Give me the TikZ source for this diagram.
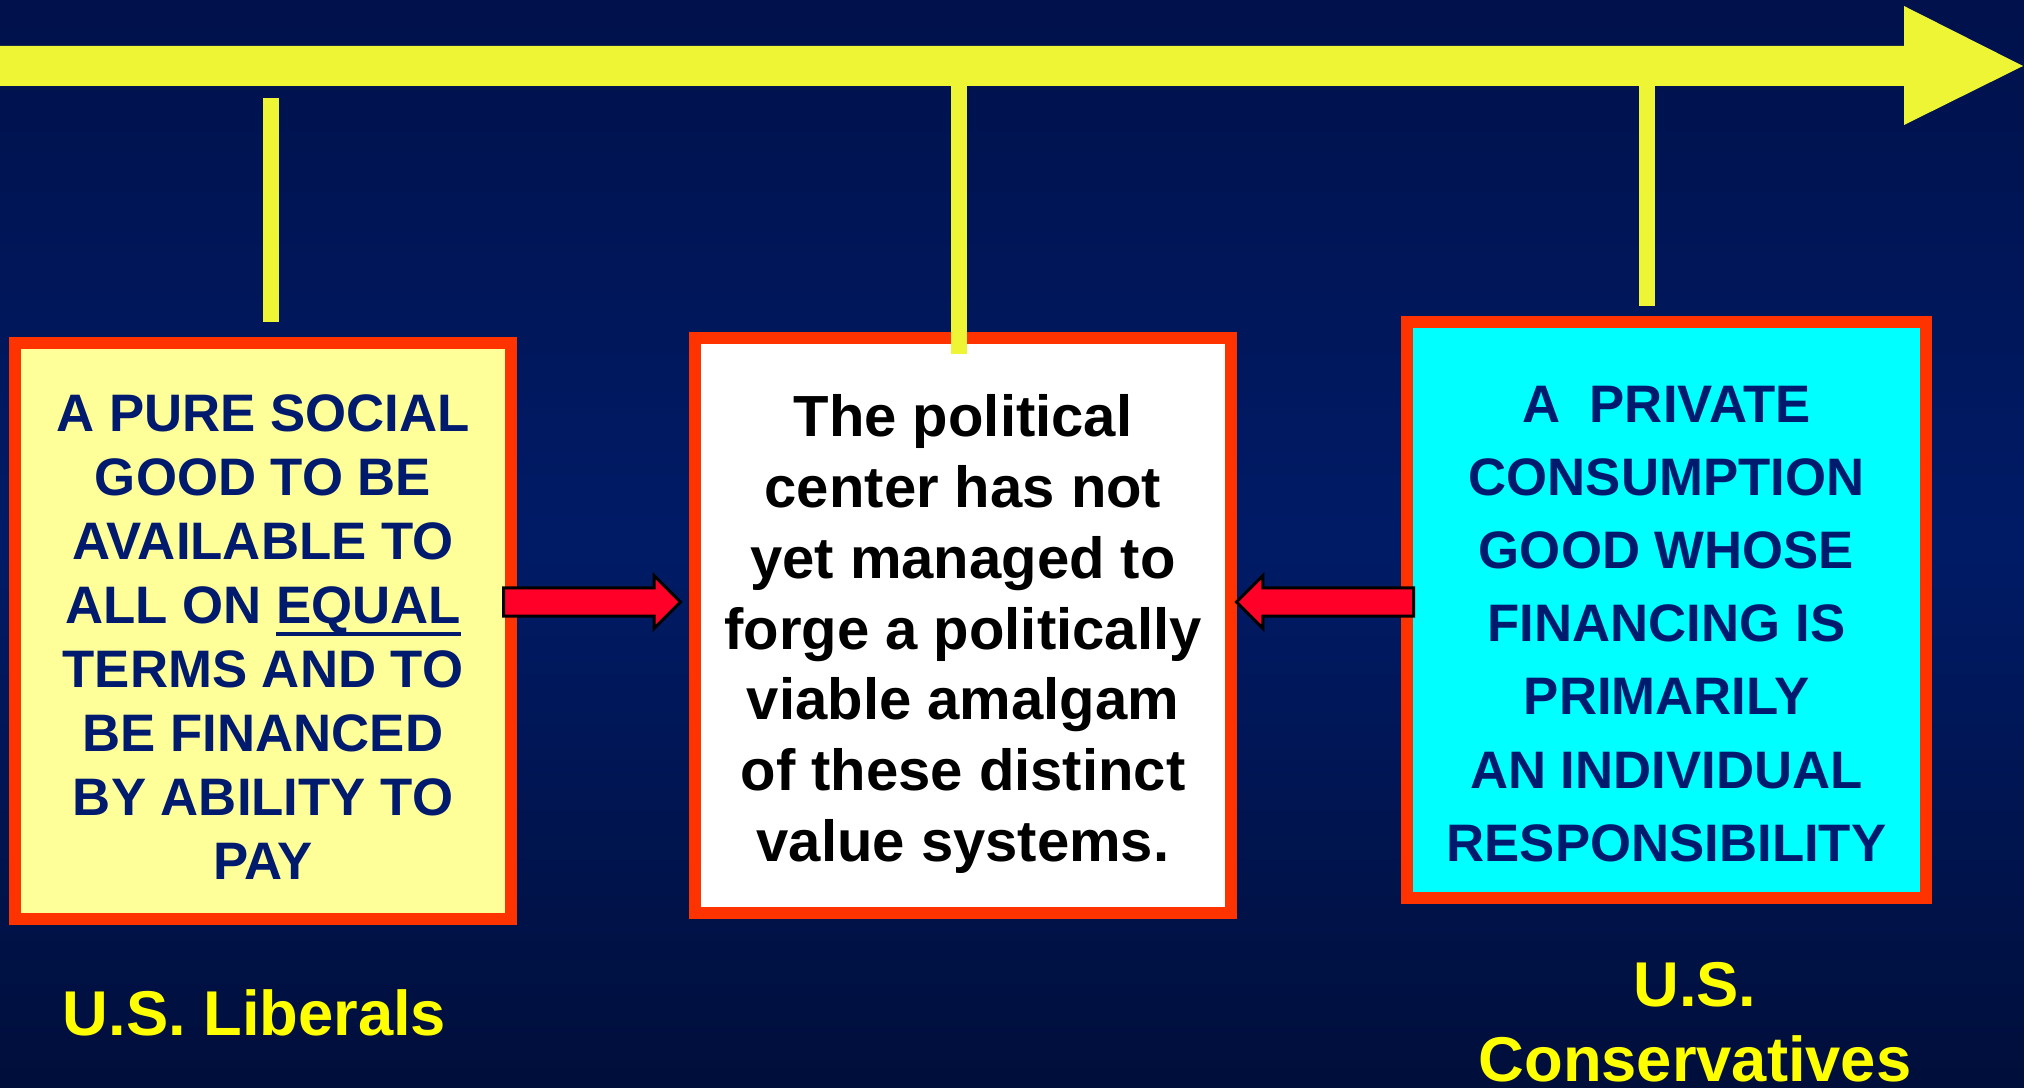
\documentclass[tikz,border=0pt]{standalone}
\usepackage{fontspec}
\setmainfont{Liberation Sans}
\usetikzlibrary{shapes.arrows}

\definecolor{slidetop}{RGB}{0,17,75}
\definecolor{slidemid}{RGB}{0,27,102}
\definecolor{slidebottom}{RGB}{0,14,58}
\definecolor{axisyellow}{RGB}{238,245,53}
\definecolor{labelyellow}{RGB}{255,255,0}
\definecolor{boxred}{RGB}{255,51,0}
\definecolor{pushred}{RGB}{255,0,40}
\definecolor{inknavy}{RGB}{0,26,110}
\definecolor{paleyellow}{RGB}{255,255,153}
\definecolor{brightcyan}{RGB}{0,255,255}

\newcommand{\equalline}[1]{\setbox0\hbox{#1}\rlap{\raisebox{-3.6pt}{\rule{\wd0}{1.1pt}}}\box0}
% pushes the first line down inside a box
\newcommand{\toplift}[1]{\rule{0pt}{#1}}

\begin{document}
\begin{tikzpicture}[x=0.01cm, y=-0.01cm,
  valuebox/.style={draw=boxred, line width=0.12cm, align=center, inner sep=0pt, minimum height=5.75cm},
  tickline/.style={axisyellow, line width=0.16cm},
  pusharrow/.style={single arrow, draw=black, line width=0.03cm, fill=pushred,
    inner xsep=0pt, inner ysep=0.125cm, single arrow head extend=0.125cm, minimum height=1.77cm},
  sidelabel/.style={text=labelyellow, font=\fontsize{18}{21.3}\selectfont\bfseries, inner sep=0pt, align=center}]

\useasboundingbox (0,0) rectangle (2024,1088);
\clip (0,0) rectangle (2024,1088);
\shade [top color=slidetop, bottom color=slidebottom, middle color=slidemid] (0,0) rectangle (2024,1088);

% the axis
\fill [axisyellow] (0,46) -- (1904,46) -- (1904,6) -- (2023,66) -- (1904,125) -- (1904,86) -- (0,86) -- cycle;

\node [valuebox, fill=paleyellow, text=inknavy, minimum width=4.96cm,
  font=\fontsize{15}{18.2}\selectfont\bfseries] (lib) at (263,631)
  {\toplift{13.8pt}A PURE SOCIAL\\GOOD TO BE\\AVAILABLE TO\\ALL ON \equalline{EQUAL}\\TERMS AND TO\\BE FINANCED\\BY ABILITY TO\\PAY};
\node [valuebox, fill=white, text=black, minimum width=5.36cm,
  font=\fontsize{16.5}{20.1}\selectfont\bfseries] (mid) at (963,625.5)
  {\toplift{16.8pt}The political\\center has not\\yet managed to\\forge a politically\\viable amalgam\\of these distinct\\value systems.};
\node [valuebox, fill=brightcyan, text=inknavy, minimum width=5.19cm, minimum height=5.76cm,
  font=\fontsize{15}{20.8}\selectfont\bfseries] (con) at (1666.5,610)
  {\toplift{18.2pt}A\ \ PRIVATE\\CONSUMPTION\\GOOD WHOSE\\FINANCING IS\\PRIMARILY\\AN INDIVIDUAL\\RESPONSIBILITY};

\coordinate (tl) at (271,98);
\coordinate (tlend) at (271,322);
\coordinate (tm) at (959,86);
\coordinate (tmend) at (959,354);
\coordinate (tr) at (1647,86);
\coordinate (trend) at (1647,306);
\draw [tickline] (tl) -- (tlend);
\draw [tickline] (tm) -- (tmend);
\draw [tickline] (tr) -- (trend);

\node [pusharrow, anchor=tail] (pushl) at (502,602) {};
\node [pusharrow, anchor=tail, shape border rotate=180] (pushr) at (1415,602) {};

\node [sidelabel, anchor=base] (libs) at (254.5,1035) {U.S. Liberals};
\node [sidelabel, anchor=north] (cons) at (1695,962) {U.S.\\Conservatives};

\end{tikzpicture}
\end{document}
